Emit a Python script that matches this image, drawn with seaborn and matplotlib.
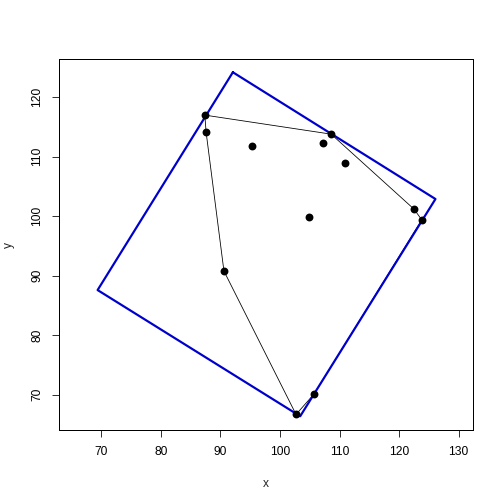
import matplotlib
matplotlib.use("Agg")
import matplotlib.pyplot as plt
import seaborn as sns
import pandas as pd

# points
px = [87.4, 87.6, 95.3, 107.2, 108.6, 110.9, 122.5, 123.8, 104.9, 90.6, 102.7, 105.7]
py = [117.0, 114.2, 111.8, 112.3, 113.8, 109.0, 101.2, 99.4, 99.9, 90.8, 66.7, 70.1]

# convex hull order (indices into the points)
hull = [0, 4, 6, 7, 11, 10, 9, 1, 0]

# bounding rectangle corners
rect_x = [92.1, 126.1, 103.4, 69.4, 92.1]
rect_y = [124.2, 102.9, 66.4, 87.6, 124.2]

sns.set_style("white")
plt.rcParams['font.family'] = ['Liberation Sans', 'DejaVu Sans']

fig = plt.figure(figsize=(7, 7), dpi=72)
ax = fig.add_axes([0.118, 0.147, 0.8205, 0.735])

df = pd.DataFrame({'x': px, 'y': py})
sns.scatterplot(data=df, x='x', y='y', ax=ax, color='black', s=62,
                edgecolor='black', linewidth=0, zorder=3)

ax.plot([px[i] for i in hull], [py[i] for i in hull], color='black', lw=0.8, zorder=2)
ax.plot(rect_x, rect_y, color='#0000CC', lw=2.2, zorder=2)

ax.set_xlim(63.0, 132.4)
ax.set_ylim(64.1, 126.35)
ax.set_xticks([70, 80, 90, 100, 110, 120, 130])
ax.set_yticks([70, 80, 90, 100, 110, 120])
ax.tick_params(axis='both', direction='out', length=7, width=0.8, labelsize=12,
               color='black', labelcolor='black', pad=9, bottom=True, left=True)
for lab in ax.get_yticklabels():
    lab.set_rotation(90)
    lab.set_va('center')
for sp in ax.spines.values():
    sp.set_color('black')
    sp.set_linewidth(1.0)

ax.set_xlabel('x', fontsize=12, labelpad=20)
ax.set_ylabel('y', fontsize=12, labelpad=17)

fig.savefig('out.png', dpi=72)
